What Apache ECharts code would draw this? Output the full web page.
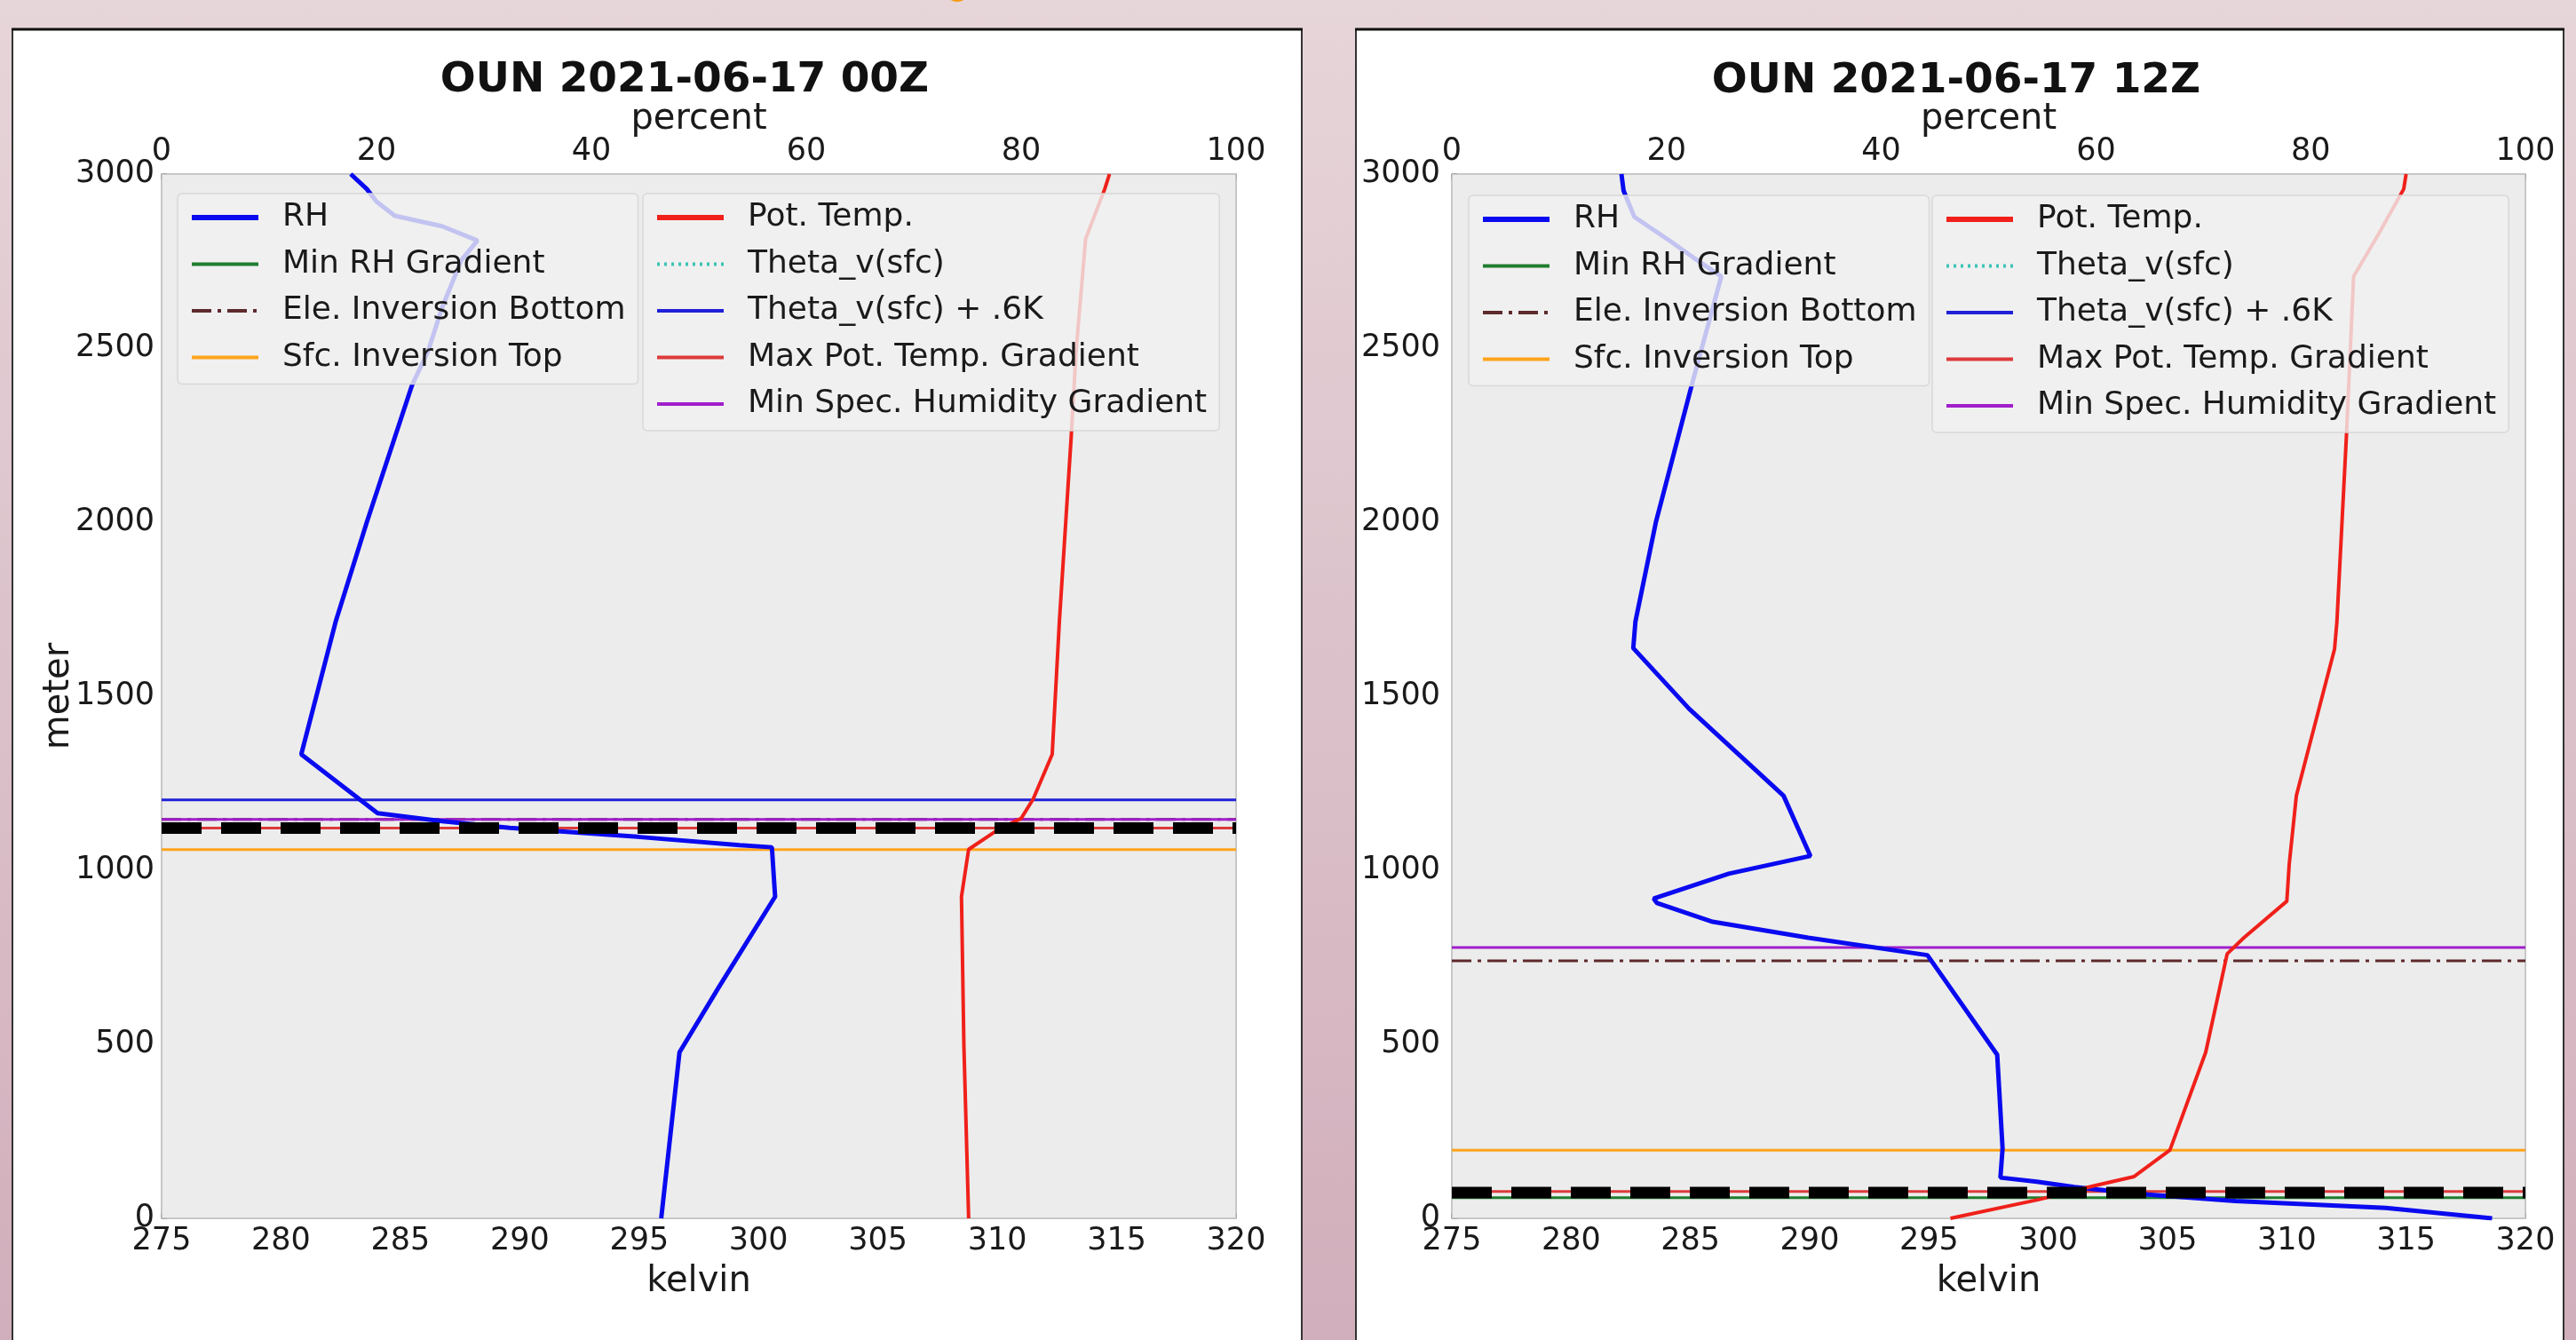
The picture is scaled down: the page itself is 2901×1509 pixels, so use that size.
<!DOCTYPE html>
<html>
<head>
<meta charset="utf-8">
<title>OUN soundings 2021-06-17</title>
<script src="https://cdn.jsdelivr.net/npm/echarts@6/dist/echarts.min.js"></script>
<style>
  html, body { margin: 0; padding: 0; overflow: hidden; }
  #chart { width: 2901px; height: 1509px; }
</style>
</head>
<body>
<div id="chart"></div>
<script>
// ---------- axis ranges ----------
const kelvinRange = [275, 320, 5];
const percentRange = [0, 100, 20];
const heightRange = [0, 3000, 500];

// ---------- 2021-06-17 00Z ----------
const rhHeight00 = [0, 477, 661, 924, 1066, 1072, 1096, 1122, 1141, 1164, 1333, 1714, 2000, 2393, 2491, 2616, 2753, 2809, 2850, 2880, 2921, 2957, 3000];
const rh00       = [46.5, 48.2, 51.8, 57.1, 56.8, 53.8, 44.3, 32.4, 26.1, 20.1, 13.0, 16.2, 19.1, 23.3, 24.8, 26.1, 27.9, 29.4, 26.1, 21.7, 20.0, 19.1, 17.6];
const thetaHeight00 = [0, 500, 924, 1060, 1115, 1149, 1204, 1333, 1714, 2250, 2491, 2814, 2957, 3000];
const theta00       = [308.8, 308.6, 308.5, 308.8, 310.0, 311.0, 311.5, 312.3, 312.6, 313.1, 313.3, 313.7, 314.5, 314.7];

// ---------- 2021-06-17 12Z ----------
const rhHeight12 = [0, 30, 50, 70, 90, 105, 117, 201, 470, 756, 806, 852, 906, 919, 990, 1041, 1214, 1464, 1638, 1714, 1999, 2388, 2706, 2760, 2806, 2877, 2952, 3000];
const rh12       = [96.9, 87.0, 73.0, 64.0, 58.0, 54.5, 51.1, 51.3, 50.8, 44.3, 33.2, 24.3, 19.1, 18.8, 25.8, 33.4, 30.9, 22.1, 16.9, 17.1, 19.0, 22.3, 25.1, 22.5, 20.4, 17.0, 16.0, 15.8];
const thetaHeight12 = [0, 54, 93, 120, 196, 477, 760, 806, 911, 1017, 1214, 1504, 1635, 1714, 2250, 2706, 2822, 2957, 3000];
const theta12       = [295.9, 299.6, 301.9, 303.6, 305.1, 306.6, 307.5, 308.2, 310.0, 310.1, 310.4, 311.5, 312.0, 312.1, 312.5, 312.8, 313.8, 314.9, 315.0];

// ---------- diagnosed levels (meters); null = not found ----------
const levelNames = ['Min RH Gradient', 'Ele. Inversion Bottom', 'Sfc. Inversion Top', 'Theta_v(sfc)', 'Theta_v(sfc) + .6K', 'Max Pot. Temp. Gradient', 'Min Spec. Humidity Gradient', 'PBL Height'];
const levels00 = [1121, 1146, 1059, null, 1202, 1121, 1146, 1121];
const levels12 = [59, 740, 196, null, null, 77, 778, 74];

const panelTitles = ['OUN 2021-06-17 00Z', 'OUN 2021-06-17 12Z'];
const legendLeftNames = ['RH', 'Min RH Gradient', 'Ele. Inversion Bottom', 'Sfc. Inversion Top'];
const legendRightNames = ['Pot. Temp.', 'Theta_v(sfc)', 'Theta_v(sfc) + .6K', 'Max Pot. Temp. Gradient', 'Min Spec. Humidity Gradient'];

// ---------- styling ----------
const FONT = 'DejaVu Sans';
const INK = '#1a1a1a';
const BLUE = '#0a0af0';
const RED = '#f0201a';
const levelStyles = {
  'Min RH Gradient':            { color: '#1f7d2e', width: 3, type: 'solid' },
  'Ele. Inversion Bottom':      { color: '#5e2a2c', width: 3, type: [22, 7, 4, 7] },
  'Sfc. Inversion Top':         { color: '#ffa41c', width: 3, type: 'solid' },
  'Theta_v(sfc)':               { color: '#3cc4b6', width: 3, type: [3, 5] },
  'Theta_v(sfc) + .6K':         { color: '#2020d8', width: 3, type: 'solid' },
  'Max Pot. Temp. Gradient':    { color: '#dd3a3a', width: 3, type: 'solid' },
  'Min Spec. Humidity Gradient':{ color: '#a01fca', width: 3, type: 'solid' },
  'PBL Height':                 { color: '#000000', width: 13, type: [45, 22] }
};

const gridBoxes = [
  { left: 182, top: 196, width: 1210, height: 1176 },
  { left: 1635, top: 196, width: 1209, height: 1176 }
];

const grids = gridBoxes.map(g => Object.assign({
  show: true, backgroundColor: '#ececec', borderColor: '#bdbdbd', borderWidth: 1.5, z: 1
}, g));

const tickLabel = { fontFamily: FONT, fontSize: 35, color: INK };
const nameStyle = { fontFamily: FONT, fontSize: 40, color: INK };
const plain = v => String(v);

const xAxes = [];
const yAxes = [];
gridBoxes.forEach((g, p) => {
  xAxes.push({
    type: 'value', gridIndex: p, position: 'bottom',
    min: kelvinRange[0], max: kelvinRange[1], interval: kelvinRange[2],
    name: 'kelvin', nameLocation: 'middle', nameGap: 52, nameMoveOverlap: false, nameTextStyle: nameStyle,
    axisLine: { show: false },
    axisTick: { show: true, inside: true, length: 6, lineStyle: { color: '#555', width: 1.5 } },
    axisLabel: Object.assign({ margin: 8, formatter: plain }, tickLabel),
    splitLine: { show: true, lineStyle: { color: '#d2d2d2', width: 1.5 } }
  });
  xAxes.push({
    type: 'value', gridIndex: p, position: 'top',
    min: percentRange[0], max: percentRange[1], interval: percentRange[2],
    name: 'percent', nameLocation: 'middle', nameGap: 41, nameMoveOverlap: false, nameTextStyle: nameStyle,
    axisLine: { show: false },
    axisTick: { show: true, inside: true, length: 6, lineStyle: { color: '#555', width: 1.5 } },
    axisLabel: Object.assign({ margin: 8, formatter: plain }, tickLabel),
    splitLine: { show: false }
  });
  yAxes.push({
    type: 'value', gridIndex: p,
    min: heightRange[0], max: heightRange[1], interval: heightRange[2],
    name: p === 0 ? 'meter' : '', nameLocation: 'middle', nameGap: 95, nameRotate: 90, nameMoveOverlap: false, nameTextStyle: nameStyle,
    axisLine: { show: false },
    axisTick: { show: true, inside: true, length: 6, lineStyle: { color: '#555', width: 1.5 } },
    axisLabel: Object.assign({ margin: p === 0 ? 8 : 13, formatter: plain }, tickLabel),
    splitLine: { show: true, lineStyle: { color: '#d2d2d2', width: 1.5 } }
  });
});

function zip(xs, ys) { return xs.map((x, i) => [x, ys[i]]); }

function panelSeries(p, rhH, rhV, thH, thV, levels) {
  const kx = p * 2, px = p * 2 + 1;
  const out = [];
  out.push({
    name: 'RH', type: 'line', xAxisIndex: px, yAxisIndex: p,
    data: zip(rhV, rhH), symbol: 'none', z: 3,
    lineStyle: { color: BLUE, width: 5 }, itemStyle: { color: BLUE }
  });
  out.push({
    name: 'Pot. Temp.', type: 'line', xAxisIndex: kx, yAxisIndex: p,
    data: zip(thV, thH), symbol: 'none', z: 3,
    lineStyle: { color: RED, width: 4 }, itemStyle: { color: RED }
  });
  levelNames.forEach((n, i) => {
    const h = levels[i];
    const st = levelStyles[n];
    out.push({
      name: n, type: 'line', xAxisIndex: kx, yAxisIndex: p,
      data: h == null ? [] : [[kelvinRange[0], h], [kelvinRange[1], h]],
      symbol: 'none', z: n === 'PBL Height' ? 4 : 2,
      lineStyle: { color: st.color, width: st.width, type: st.type, cap: 'butt' },
      itemStyle: { color: st.color }
    });
  });
  return out;
}

const series = [].concat(
  panelSeries(0, rhHeight00, rh00, thetaHeight00, theta00, levels00),
  panelSeries(1, rhHeight12, rh12, thetaHeight12, theta12, levels12)
);

function legendBox(left, top, names) {
  return {
    orient: 'vertical', left: left, top: top,
    data: names.map(n => ({ name: n, lineStyle: { width: (n === 'RH' || n === 'Pot. Temp.') ? 6 : 4 } })),
    itemWidth: 75, itemHeight: 20, itemGap: 12.5,
    padding: [7, 14, 10, 13],
    backgroundColor: 'rgba(241,241,241,0.8)',
    borderColor: 'rgba(214,214,214,0.9)', borderWidth: 1.5, borderRadius: 5,
    itemStyle: { opacity: 0 },
    textStyle: { fontFamily: FONT, fontSize: 36, color: INK, lineHeight: 40, padding: [0, 0, 0, 22] },
    selectedMode: false
  };
}

const legends = [
  legendBox(200, 218, legendLeftNames),
  legendBox(724, 218, legendRightNames),
  legendBox(1654, 220, legendLeftNames),
  legendBox(2176, 220, legendRightNames)
];

const graphics = [
  { type: 'rect', z: -10, shape: { x: 14, y: 33, width: 1452, height: 1500 }, style: { fill: '#ffffff', stroke: '#333333', lineWidth: 2 } },
  { type: 'line', z: -9, shape: { x1: 13, y1: 33, x2: 1467, y2: 33 }, style: { stroke: '#111111', lineWidth: 3 } },
  { type: 'rect', z: -10, shape: { x: 1527, y: 33, width: 1360, height: 1500 }, style: { fill: '#ffffff', stroke: '#333333', lineWidth: 2 } },
  { type: 'line', z: -9, shape: { x1: 1526, y1: 33, x2: 2888, y2: 33 }, style: { stroke: '#111111', lineWidth: 3 } },
  { type: 'circle', z: -9, shape: { cx: 1078, cy: -12, r: 14 }, style: { fill: '#f59a0c' } },
  { type: 'text', z: 5, x: 771, y: 91, style: { text: panelTitles[0], font: 'bold 47px "DejaVu Sans"', fill: '#111', align: 'center', verticalAlign: 'middle' } },
  { type: 'text', z: 5, x: 2203, y: 92, style: { text: panelTitles[1], font: 'bold 47px "DejaVu Sans"', fill: '#111', align: 'center', verticalAlign: 'middle' } }
];

const chart = echarts.init(document.getElementById('chart'), null, { renderer: 'canvas' });
chart.setOption({
  animation: false,
  backgroundColor: {
    type: 'linear', x: 0, y: 0, x2: 0, y2: 1,
    colorStops: [{ offset: 0, color: '#e6d5d9' }, { offset: 1, color: '#d1aebb' }]
  },
  textStyle: { fontFamily: FONT },
  graphic: graphics,
  grid: grids,
  xAxis: xAxes,
  yAxis: yAxes,
  legend: legends,
  series: series
});
</script>
</body>
</html>
